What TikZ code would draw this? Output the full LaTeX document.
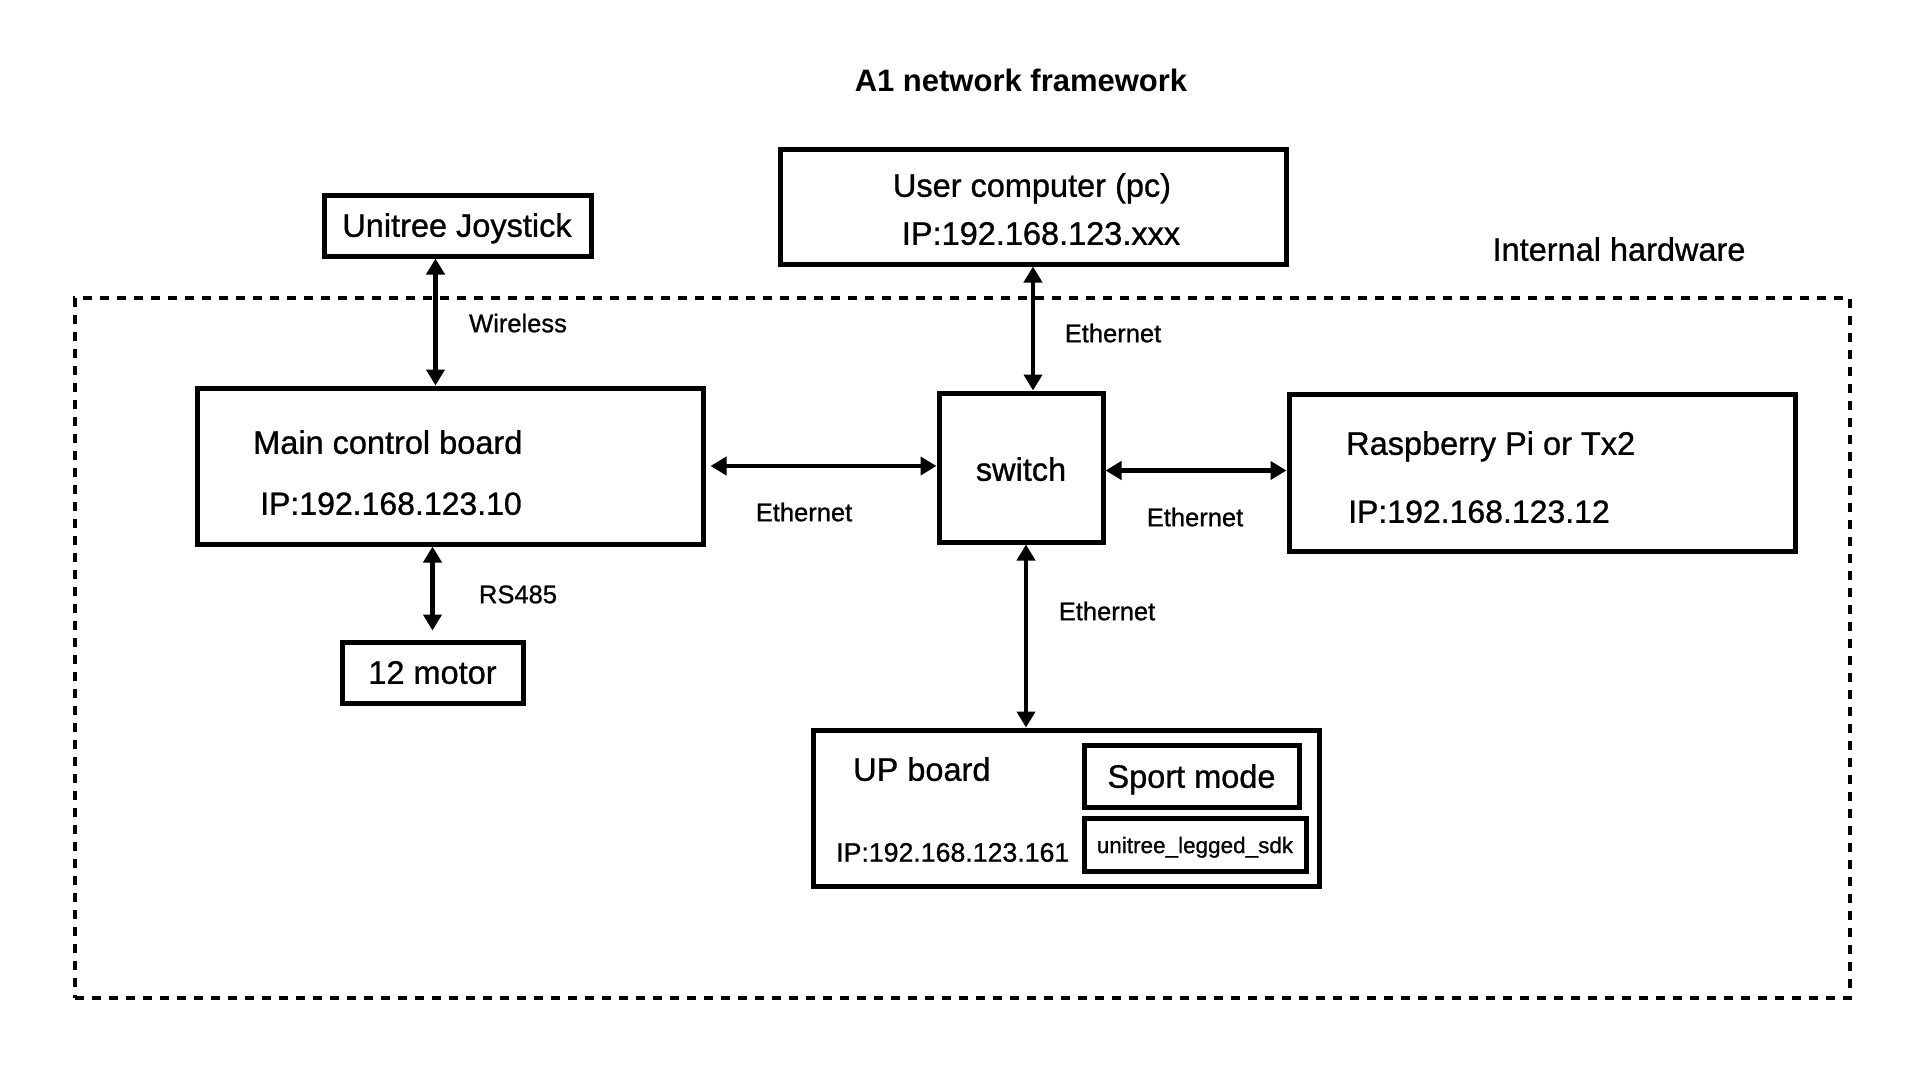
\documentclass[tikz,border=0pt]{standalone}
\usepackage{fontspec}
\setmainfont{Liberation Sans}
\newfontfamily\medfont{Liberation Sans}[FakeBold=0.9]
\usetikzlibrary{arrows.meta}
\begin{document}
\begin{tikzpicture}[x=1pt,y=-1pt,
  box/.style={draw, line width=5pt, inner sep=0pt},
  txt/.style={inner sep=0pt, text height=23.5pt, text depth=0pt, font=\medfont\fontsize{32.5}{40}\selectfont},
  lbl/.style={inner sep=0pt, text height=18.4pt, text depth=0pt, font=\medfont\fontsize{25.5}{30}\selectfont},
  biarrow/.style={line width=4.5pt, {Triangle[width=18pt,length=16pt]}-{Triangle[width=18pt,length=16pt]}},
  hwbox/.style={draw, line width=4pt, dash pattern=on 9pt off 8pt, inner sep=0pt}
]
\useasboundingbox[fill=white] (0,0) rectangle (1920,1080);

% title
\node[inner sep=0pt, text height=22.5pt, text depth=0pt, font=\bfseries\fontsize{31}{37}\selectfont] (title) at (1021,80) {A1 network framework};

% internal hardware region
\node[hwbox, minimum width=1775pt, minimum height=700pt] (hw) at (962.5,648) {};
\node[txt] (hwlbl) at (1619,249) {Internal hardware};

% boxes
\node[box, minimum width=267pt, minimum height=61pt] (joy) at (457.5,225.5) {};
\node[txt] (joytxt) at (457,225) {Unitree Joystick};

\node[box, minimum width=506pt, minimum height=115pt] (user) at (1033,206.5) {};
\node[txt] (usert1) at (1032,185) {User computer (pc)};
\node[txt] (usert2) at (1041,233) {IP:192.168.123.xxx};

\node[box, minimum width=506pt, minimum height=156pt] (main) at (450,466) {};
\node[txt, anchor=west] (maint1) at (253,442) {Main control board};
\node[txt, anchor=west, font=\medfont\fontsize{32}{40}\selectfont] (maint2) at (260,503) {IP:192.168.123.10};

\node[box, minimum width=164pt, minimum height=149pt] (sw) at (1021,467.5) {};
\node[txt] (swtxt) at (1021,469) {switch};

\node[box, minimum width=506pt, minimum height=157pt] (rasp) at (1542,472.5) {};
\node[txt, anchor=west] (raspt1) at (1346,443) {Raspberry Pi or Tx2};
\node[txt, anchor=west, font=\medfont\fontsize{32}{40}\selectfont] (raspt2) at (1348,511) {IP:192.168.123.12};

\node[box, minimum width=181pt, minimum height=61pt] (motor) at (432.5,672.5) {};
\node[txt] (motortxt) at (432.5,672) {12 motor};

\node[box, minimum width=506pt, minimum height=156pt] (up) at (1066,808) {};
\node[txt, anchor=west] (upt1) at (853,769) {UP board};
\node[txt, anchor=west, text height=19.3pt, font=\medfont\fontsize{26.7}{32}\selectfont] (upt2) at (836,852) {IP:192.168.123.161};

\node[box, minimum width=215pt, minimum height=62pt] (sport) at (1191.5,776) {};
\node[txt] (sporttxt) at (1191.5,776) {Sport mode};

\node[box, minimum width=222pt, minimum height=53pt] (sdk) at (1195,845) {};
\node[txt, text height=16.2pt, font=\medfont\fontsize{22.5}{27}\selectfont] (sdktxt) at (1195,845) {unitree\_legged\_sdk};

% connectors
\draw[biarrow] ([xshift=-22pt]joy.south) -- ([xshift=-22pt]joy.south |- main.north);
\draw[biarrow] (motor.north |- main.south) -- ([yshift=9pt]motor.north);
\draw[biarrow] ([xshift=5pt]main.east) -- (main.east -| sw.west);
\draw[biarrow] ([yshift=-3pt]sw.east) -- ([yshift=-3pt]sw.east -| rasp.west);
\draw[biarrow] (user.south) -- (user.south |- sw.north);
\draw[biarrow] ([xshift=5pt]sw.south) -- ([xshift=5pt]sw.south |- up.north);

% connector labels
\node[lbl] (l1) at (518,323) {Wireless};
\node[lbl] (l2) at (518,594) {RS485};
\node[lbl] (l3) at (804,512) {Ethernet};
\node[lbl] (l4) at (1195,517) {Ethernet};
\node[lbl] (l5) at (1113,333) {Ethernet};
\node[lbl] (l6) at (1107,611) {Ethernet};
\end{tikzpicture}
\end{document}
